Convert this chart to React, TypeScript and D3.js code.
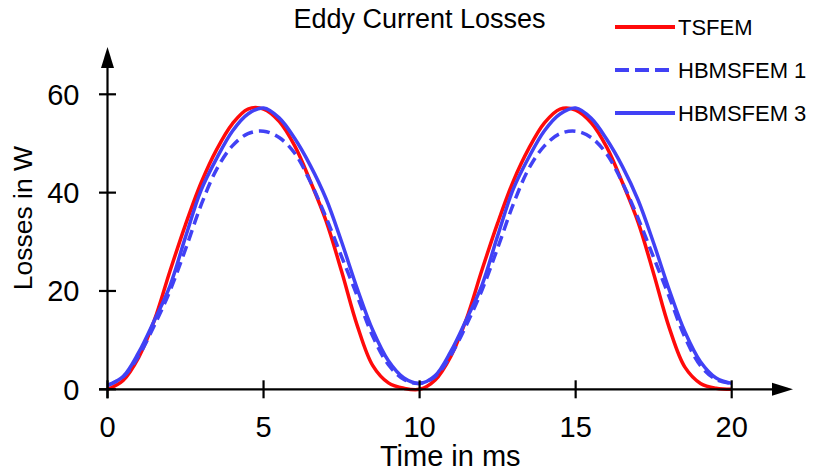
import React from "react";
import * as d3 from "d3";

const timeMs: number[] = [
  0, 0.5, 1, 1.5, 2, 2.5, 3, 3.5, 4, 4.5, 5, 5.5, 6, 6.5, 7, 7.5, 8, 8.5, 9, 9.5,
  10, 10.5, 11, 11.5, 12, 12.5, 13, 13.5, 14, 14.5, 15, 15.5, 16, 16.5, 17, 17.5, 18, 18.5, 19, 19.5, 20,
];

const tsfem: number[] = [
  0, 1.8, 6.5, 14, 24, 33.5, 42, 48.8, 54, 57, 57, 54.5, 49.5, 42.3, 34.3, 24, 13, 4.8, 1.3, 0.2,
  0, 1.9, 6.7, 14.3, 24.3, 33.8, 42.3, 49, 54.2, 57, 56.8, 54.2, 49.2, 42, 34, 23.5, 12.5, 4.5, 1.2, 0.2, 0,
];

const hbmsfem1: number[] = [
  0.8, 2.5, 6.8, 13, 20, 28.5, 37.5, 44.8, 49.5, 52, 52.5, 51.2, 48, 42.2, 35, 27, 19, 10.8, 5, 2,
  1.2, 2.6, 6.9, 13.1, 20.2, 28.7, 37.6, 44.9, 49.5, 52, 52.5, 51.2, 47.8, 42, 34.8, 26.8, 18.8, 10.6, 4.8, 2, 1.2,
];

const hbmsfem3: number[] = [
  0.8, 2.6, 7.5, 14, 21, 31, 40.5, 47, 52.5, 56, 57.2, 55.2, 51, 45.5, 38.8, 30, 20.5, 12, 5.8, 2.3,
  1.2, 2.8, 7.7, 14.2, 21.2, 31.2, 40.7, 47.2, 52.6, 56, 57.2, 55.1, 50.8, 45.3, 38.5, 29.7, 20.2, 11.7, 5.6, 2.3, 1.2,
];

const xTicks: number[] = [0, 5, 10, 15, 20];
const yTicks: number[] = [0, 20, 40, 60];

const seriesNames: string[] = ["TSFEM", "HBMSFEM 1", "HBMSFEM 3"];
const seriesColors: string[] = ["#ff0a0a", "#4141f5", "#4141f5"];
const seriesDash: (string | undefined)[] = [undefined, "11,6", undefined];
const seriesValues: number[][] = [tsfem, hbmsfem1, hbmsfem3];

const title = "Eddy Current Losses";
const xLabel = "Time in ms";
const yLabel = "Losses in W";

const W = 814;
const H = 470;
const FONT = "'Liberation Sans', Arial, Helvetica, sans-serif";

export default function App() {
  const x = d3.scaleLinear().domain([0, 20]).range([107.5, 731.7]);
  const y = d3.scaleLinear().domain([0, 60]).range([389.3, 94.3]);

  const line = d3
    .line<number>()
    .x((_, i) => x(timeMs[i]))
    .y((v) => Math.min(y(v), y(0)))
    .curve(d3.curveCatmullRom.alpha(0.5));

  const x0 = x(0);
  const y0 = y(0);
  const xEnd = 793;
  const yTop = 47;
  const arrowLen = 21;
  const arrowHalf = 6.5;

  const legendX1 = 615;
  const legendX2 = 675;
  const legendY = [27, 70, 113];

  return (
    <div style={{ position: "absolute", left: 0, top: 0 }}>
      <svg width={W} height={H} style={{ display: "block", background: "#fff" }}>
        <rect width={W} height={H} fill="#fff" />
        {/* curves */}
        {seriesValues.map((vals, si) => (
          <path
            key={si}
            d={line(vals) || ""}
            fill="none"
            stroke={seriesColors[si]}
            strokeWidth={3.5}
            strokeDasharray={seriesDash[si]}
            strokeLinejoin="round"
          />
        ))}
        {/* axes */}
        <g stroke="#000" strokeWidth={2.2} fill="none">
          <line x1={x0 - 8.5} y1={y0} x2={xEnd - arrowLen + 1} y2={y0} />
          <line x1={x0} y1={y0 + 9} x2={x0} y2={yTop + arrowLen - 1} />
          {xTicks.map((t) => (
            <line key={"xt" + t} x1={x(t)} y1={y0 - 9} x2={x(t)} y2={y0 + 9} />
          ))}
          {yTicks.map((t) => (
            <line key={"yt" + t} x1={x0 - 8.5} y1={y(t)} x2={x0 + 8.5} y2={y(t)} />
          ))}
        </g>
        <path
          d={`M${xEnd},${y0} L${xEnd - arrowLen},${y0 - arrowHalf} L${xEnd - arrowLen},${y0 + arrowHalf} Z`}
          fill="#000"
        />
        <path
          d={`M${x0},${yTop} L${x0 - arrowHalf},${yTop + arrowLen} L${x0 + arrowHalf},${yTop + arrowLen} Z`}
          fill="#000"
        />
        {/* tick labels */}
        <g fontFamily={FONT} fontSize={29} fill="#000">
          {xTicks.map((t) => (
            <text key={"xl" + t} x={x(t)} y={437} textAnchor="middle">
              {t}
            </text>
          ))}
          {yTicks.map((t) => (
            <text key={"yl" + t} x={79.5} y={y(t) + 10.5} textAnchor="end">
              {t}
            </text>
          ))}
        </g>
        {/* axis labels */}
        <text
          x={(x0 + xEnd) / 2}
          y={466}
          textAnchor="middle"
          fontFamily={FONT}
          fontSize={29}
          fill="#000"
        >
          {xLabel}
        </text>
        <text
          transform={`translate(31.5, ${(y0 + yTop) / 2}) rotate(-90)`}
          textAnchor="middle"
          fontFamily={FONT}
          fontSize={26.5}
          fill="#000"
        >
          {yLabel}
        </text>
        {/* title */}
        <text x={419.5} y={28.3} textAnchor="middle" fontFamily={FONT} fontSize={27} fill="#000">
          {title}
        </text>
        {/* legend */}
        {seriesNames.map((name, i) => (
          <g key={name}>
            <line
              x1={legendX1}
              y1={legendY[i]}
              x2={legendX2}
              y2={legendY[i]}
              stroke={seriesColors[i]}
              strokeWidth={4}
              strokeDasharray={seriesDash[i] ? "14,6" : undefined}
            />
            <text x={678} y={legendY[i] + 7.5} fontFamily={FONT} fontSize={22} fill="#000">
              {name}
            </text>
          </g>
        ))}
      </svg>
    </div>
  );
}
